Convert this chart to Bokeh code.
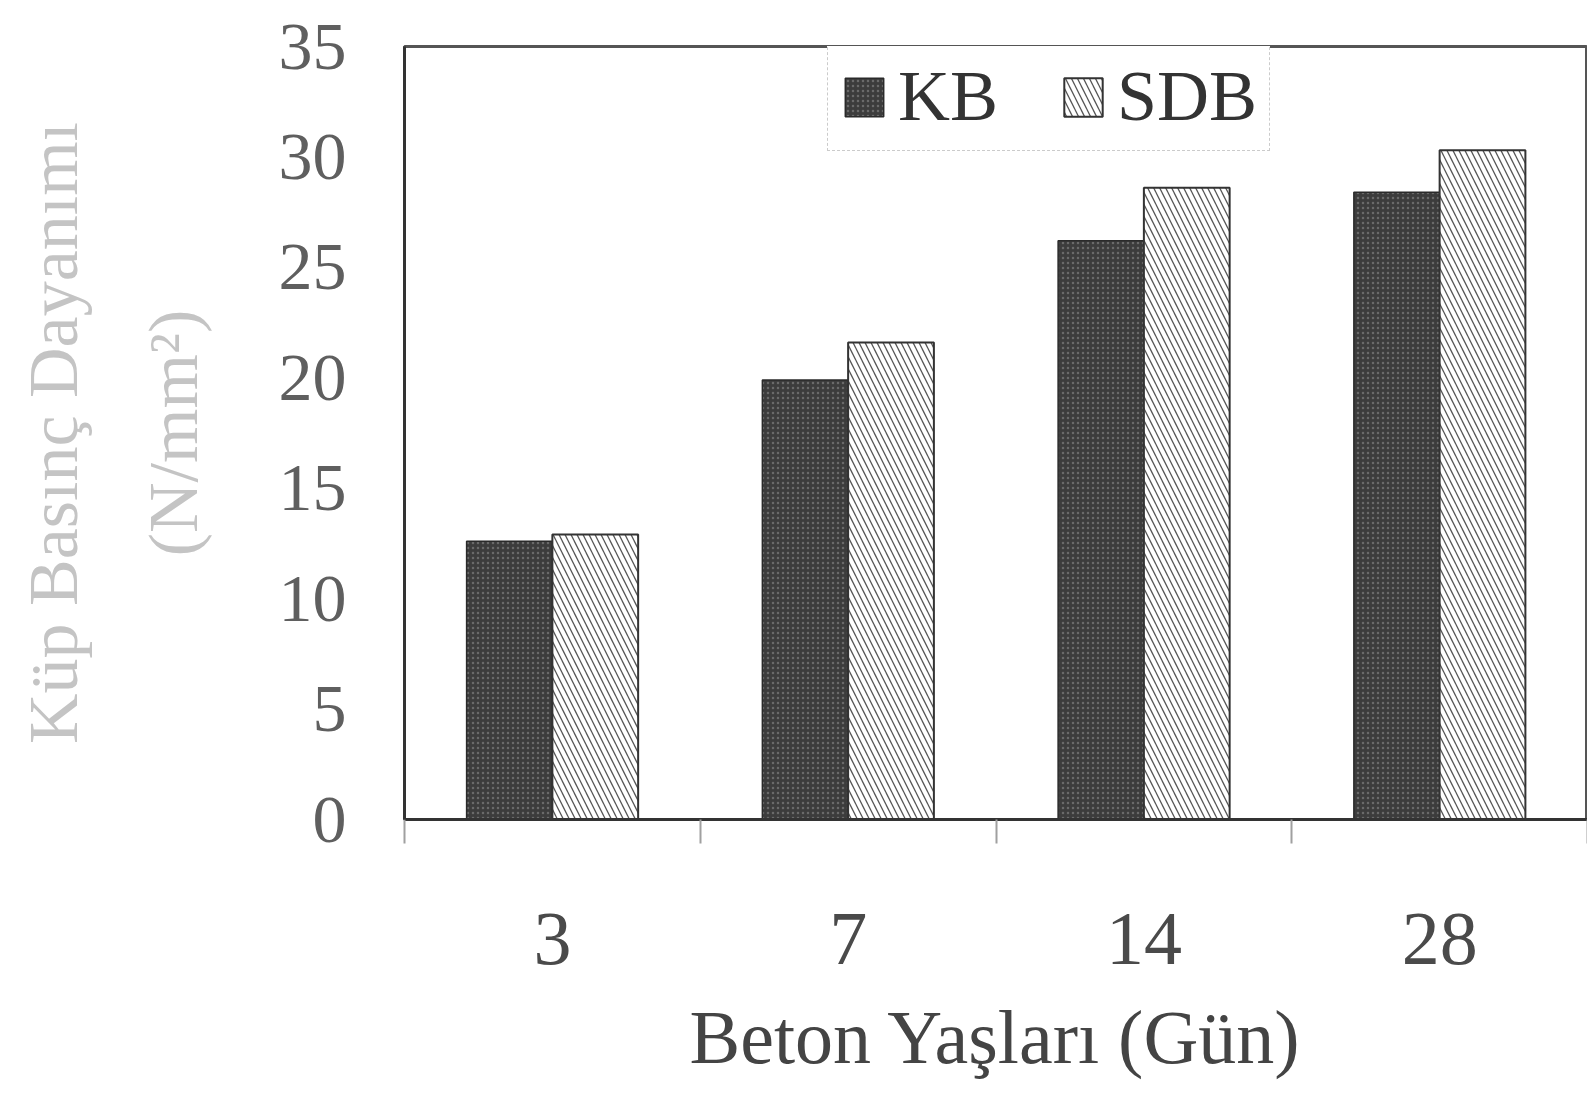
from bokeh.plotting import figure
from bokeh.models import Range1d, FixedTicker, Legend, LegendItem, ColumnDataSource
from bokeh.embed import file_html
from bokeh.resources import INLINE

days = ["3", "7", "14", "28"]
kb = [12.6, 19.9, 26.2, 28.4]
sdb = [12.9, 21.6, 28.6, 30.3]
y_ticks = [0, 5, 10, 15, 20, 25, 30, 35]
y_title = "Küp Basınç Dayanımı\n(N/mm²)"
x_title = "Beton Yaşları (Gün)"

FONT = "Liberation Serif"
bw = 0.29
idx = list(range(len(days)))
centers = [i + 0.5 for i in idx]

src_kb = ColumnDataSource(dict(x=[c - bw / 2 for c in centers], top=kb))
src_sdb = ColumnDataSource(dict(x=[c + bw / 2 for c in centers], top=sdb))

p = figure(width=1587, height=1081, x_range=Range1d(0, len(days)), y_range=Range1d(0, 35),
           output_backend="svg", toolbar_location=None,
           min_border_left=404, min_border_right=0, min_border_top=46, min_border_bottom=262)

r1 = p.vbar(x="x", top="top", width=bw, bottom=0, source=src_kb,
            fill_color="#3c3c3c", line_color="#2a2a2a", line_width=1.5,
            hatch_pattern="dot", hatch_color="#6a6a6a", hatch_scale=5, hatch_weight=1.5)
r2 = p.vbar(x="x", top="top", width=bw, bottom=0, source=src_sdb,
            fill_color="white", line_color="#333333", line_width=2,
            hatch_pattern="left_diagonal_line", hatch_color="#555555", hatch_scale=12, hatch_weight=1.3)

p.grid.visible = False
p.outline_line_color = "#555555"
p.outline_line_width = 3
p.background_fill_color = "white"
p.border_fill_color = "white"

# y axis
p.yaxis.ticker = FixedTicker(ticks=y_ticks)
p.yaxis.major_tick_out = 0
p.yaxis.major_tick_in = 0
p.yaxis.minor_tick_line_color = None
p.yaxis.axis_line_color = "#333333"
p.yaxis.axis_line_width = 3
p.yaxis.major_label_standoff = 58
p.yaxis.major_label_text_font = FONT
p.yaxis.major_label_text_font_size = "68px"
p.yaxis.major_label_text_color = "#5f5f5f"
p.yaxis.axis_label = y_title
p.yaxis.axis_label_standoff = 64
p.yaxis.axis_label_text_font = FONT
p.yaxis.axis_label_text_font_size = "70px"
p.yaxis.axis_label_text_line_height = 1.55
p.yaxis.axis_label_text_font_style = "normal"
p.yaxis.axis_label_text_color = "#c4c4c4"

# x axis
p.xaxis.ticker = FixedTicker(ticks=centers, minor_ticks=[float(i) for i in range(len(days) + 1)])
p.xaxis.major_label_overrides = {c: d for c, d in zip(centers, days)}
p.xaxis.major_tick_line_color = None
p.xaxis.major_tick_out = 0
p.xaxis.major_tick_in = 0
p.xaxis.minor_tick_out = 24
p.xaxis.minor_tick_in = 0
p.xaxis.minor_tick_line_color = "#a0a0a0"
p.xaxis.minor_tick_line_width = 2
p.xaxis.axis_line_color = "#333333"
p.xaxis.axis_line_width = 3
p.xaxis.major_label_standoff = 70
p.xaxis.major_label_text_font = FONT
p.xaxis.major_label_text_font_size = "76px"
p.xaxis.major_label_text_color = "#4a4a4a"
p.xaxis.axis_label = x_title
p.xaxis.axis_label_standoff = 28
p.xaxis.axis_label_text_font = FONT
p.xaxis.axis_label_text_font_size = "76px"
p.xaxis.axis_label_text_font_style = "normal"
p.xaxis.axis_label_text_color = "#444444"

legend = Legend(items=[LegendItem(label="KB", renderers=[r1]), LegendItem(label="SDB", renderers=[r2])],
                location=(423, 668), orientation="horizontal",
                label_text_font=FONT, label_text_font_size="72px", label_text_color="#333333",
                label_text_baseline="middle", label_height=60, label_width=122,
                glyph_width=48, glyph_height=48, spacing=39, padding=12, label_standoff=10,
                margin=0,
                border_line_color="#999999", border_line_dash="4 3", border_line_width=1,
                background_fill_alpha=1)
p.add_layout(legend)

open("out.html", "w").write(file_html(p, INLINE))
